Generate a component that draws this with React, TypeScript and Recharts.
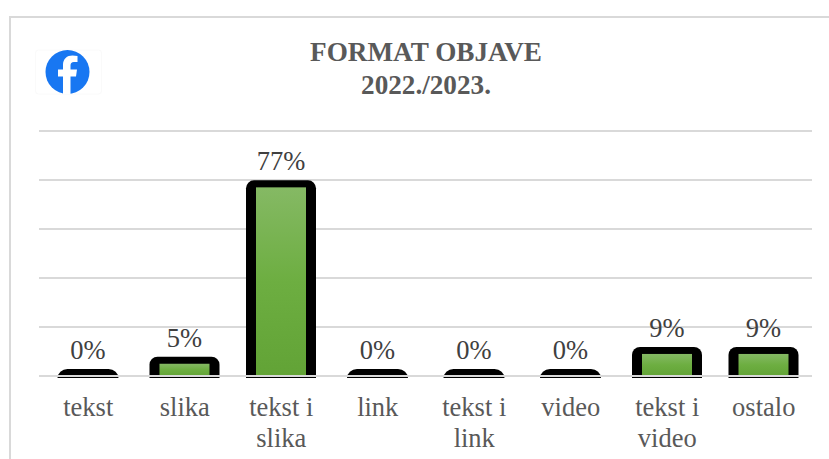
import { BarChart, Bar, CartesianGrid, XAxis, YAxis, LabelList, ReferenceLine } from "recharts";

const categories: string[] = ["tekst", "slika", "tekst i slika", "link", "tekst i link", "video", "tekst i video", "ostalo"];
const shares: number[] = [0, 5, 77, 0, 0, 0, 9, 9];
const yTicks: number[] = [0, 20, 40, 60, 80, 100];
const titleLines: string[] = ["FORMAT OBJAVE", "2022./2023."];

const chartData = categories.map((name, i) => ({ name, value: shares[i] }));

const FONT = '"Liberation Serif", "Times New Roman", serif';
const TEXT = "#595959";
const GRID = "#d9d9d9";

function OutlinedBar(props: any) {
  const { x, y, width, height } = props;
  const bottom = y + height + 2;
  const isEmpty = height < 1;
  const pad = isEmpty ? 5.5 : 10;
  const rx = isEmpty ? 10 : 8;
  const left = x - pad;
  const right = x + width + pad;
  const top = y - 7;
  const ry = Math.min(rx, bottom - top);
  const outline = `M${left},${bottom} V${top + ry} A${rx},${ry} 0 0 1 ${left + rx},${top} H${right - rx} A${rx},${ry} 0 0 1 ${right},${top + ry} V${bottom} Z`;
  return (
    <g>
      <path d={outline} fill="#000" />
      {height > 0 && <rect x={x} y={y} width={width} height={height} fill="url(#barFill)" />}
    </g>
  );
}

function CategoryTick(props: any) {
  const { x, payload } = props;
  const parts: string[] = payload.value.startsWith("tekst i ")
    ? ["tekst i", payload.value.slice(8)]
    : [payload.value];
  return (
    <text x={x} y={416} textAnchor="middle" fontFamily={FONT} fontSize={26.5} fill={TEXT}>
      {parts.map((line, i) => (
        <tspan key={line} x={x} dy={i === 0 ? 0 : 31}>
          {line}
        </tspan>
      ))}
    </text>
  );
}

export default function App() {
  return (
    <div style={{ position: "absolute", left: 0, top: 0, width: 829, height: 459, background: "#fff", overflow: "hidden" }}>
      <div
        style={{
          position: "absolute",
          left: 9,
          top: 16,
          width: 840,
          height: 460,
          border: "2px solid #d9d9d9",
          boxSizing: "border-box",
        }}
      />
      <BarChart
        width={829}
        height={459}
        data={chartData}
        barSize={50}
        margin={{ top: 131, right: 17, bottom: 0, left: 39 }}
        style={{ position: "absolute", left: 0, top: 0 }}
      >
        <defs>
          <linearGradient id="barFill" x1="0" y1="0" x2="0" y2="1">
            <stop offset="0%" stopColor="#85b964" />
            <stop offset="50%" stopColor="#6dae41" />
            <stop offset="100%" stopColor="#62a336" />
          </linearGradient>
        </defs>
        <CartesianGrid vertical={false} stroke={GRID} strokeWidth={2} />
        <YAxis hide domain={[0, 100]} ticks={yTicks} />
        <XAxis
          dataKey="name"
          interval={0}
          height={83}
          padding={{ left: 1, right: 0 }}
          axisLine={false}
          tickLine={false}
          tick={<CategoryTick />}
        />
        <Bar dataKey="value" shape={<OutlinedBar />} isAnimationActive={false}>
          <LabelList
            dataKey="value"
            position="top"
            offset={17}
            formatter={(v: any) => `${v}%`}
            style={{ fontFamily: FONT, fontSize: 26.5, fill: "#404040" }}
          />
        </Bar>
        <ReferenceLine y={0} stroke={GRID} strokeWidth={2} />
        <text x={426} y={61} textAnchor="middle" fontFamily={FONT} fontSize={27.2} fontWeight={700} fill={TEXT}>
          {titleLines[0]}
        </text>
        <text x={426} y={94} textAnchor="middle" fontFamily={FONT} fontSize={27.2} fontWeight={700} fill={TEXT}>
          {titleLines[1]}
        </text>
        <g>
          <rect x={35.5} y={50} width={66} height={44} rx={3} fill="#fff" stroke="#fafafa" />
          <circle cx={67.5} cy={72} r={22} fill="#1877f2" />
          <path
            d="M70.5 94 V76.5 H76 L77 69.5 H70.5 V65.5 C70.5 63.5 71.5 62 74 62 H77.5 V56 C76 55.7 74 55.5 72.5 55.5 C67 55.5 63 58.8 63 65 V69.5 H58 V76.5 H63 V94 Z"
            fill="#fff"
          />
        </g>
      </BarChart>
    </div>
  );
}
